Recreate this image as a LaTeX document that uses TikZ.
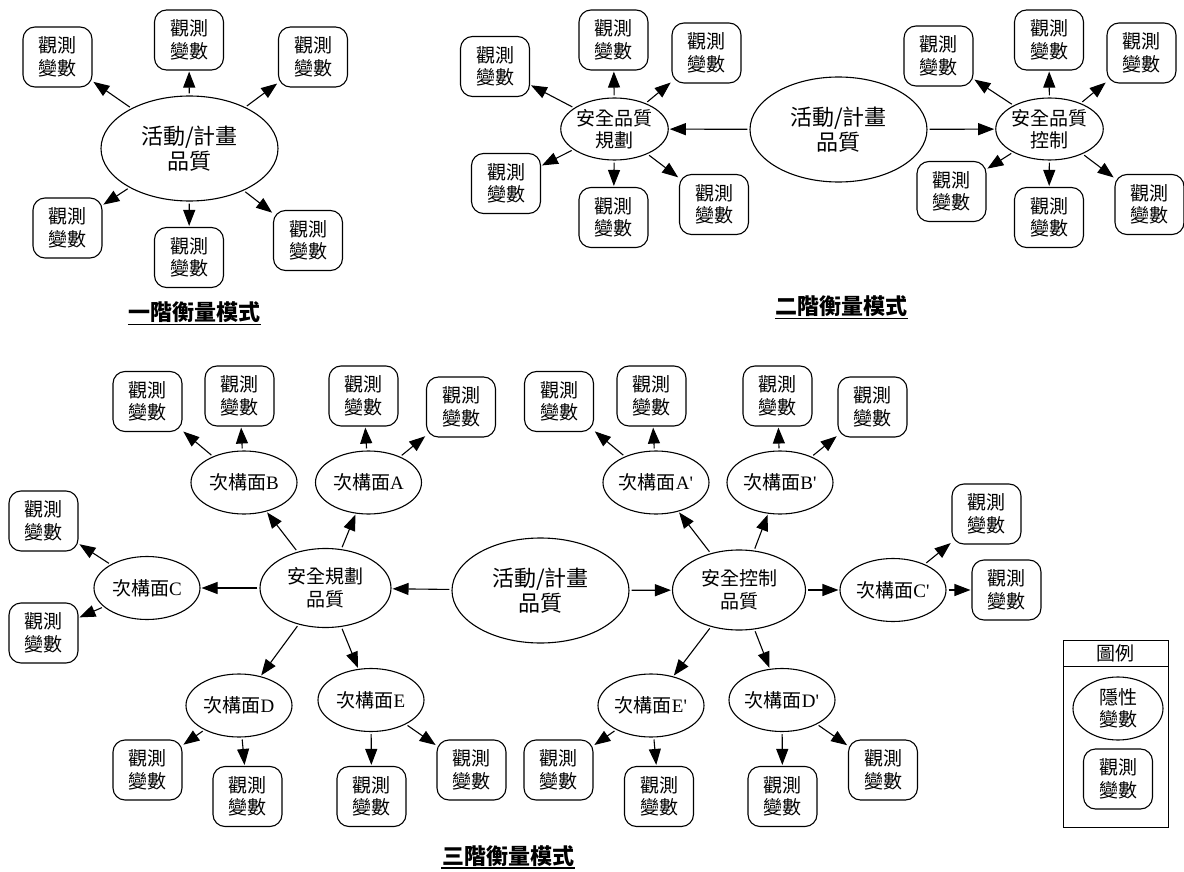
\documentclass[tikz,border=0pt]{standalone}
\usepackage{fontspec}
\setmainfont{Liberation Serif}
\newfontfamily\cjk{Noto Sans CJK TC}
\usetikzlibrary{shapes.geometric,arrows.meta}

\newcommand\facet[1]{次構面{\rmfamily #1}}
\newcommand\obstext{觀測\\變數}

\begin{document}
\begin{tikzpicture}[x=1pt,y=-1pt,line width=1.1pt]
  % Settings
  \tikzset{
    obs/.style={draw, rounded corners=12pt, minimum width=69pt, minimum height=60pt, inner sep=0pt, align=center, font=\cjk\fontsize{19}{22.5}\selectfont},
    lat/.style={draw, shape=ellipse, minimum width=106pt, minimum height=63pt, inner sep=0pt, align=center, font=\cjk\fontsize{19}{22.5}\selectfont},
    core/.style={lat, minimum width=177pt, minimum height=105pt, font=\cjk\fontsize{22}{25}\selectfont},
    heading/.style={inner sep=0pt, font=\cjk\bfseries\fontsize{22}{25}\selectfont},
    uline/.style={line width=1.6pt},
    arr/.style={-{Triangle[length=16pt,width=12pt]}, shorten <=2pt, shorten >=1pt},
  }
  \useasboundingbox (0,0) rectangle (1184,872);

  % First-order model
  \node[core] (m1) at (189.5,148.5) {活動/計畫\\品質};
  \foreach \i/\x/\y in {1/57.5/57, 2/189/40, 3/313/57, 4/67.5/228, 5/189/257.5, 6/308/240.5}
    {\node[obs] (m1-\i) at (\x,\y) {\obstext}; \draw[arr] (m1) -- (m1-\i);}
  \node[heading] (t1) at (194.5,312) {一階衡量模式};
  \draw[uline] ([yshift=-4pt]t1.base west) -- ([yshift=-4pt]t1.base east);

  % Second-order model
  \node[core] (m2) at (838.5,129.5) {活動/計畫\\品質};
  \node[lat, minimum width=105pt, minimum height=62pt] (plan2) at (614.5,129) {安全品質\\規劃};
  \node[lat, minimum width=107pt, minimum height=62pt] (ctrl2) at (1049.5,129) {安全品質\\控制};
  \draw[arr] (m2) -- (plan2);
  \draw[arr] (m2) -- (ctrl2);
  \foreach \i/\x/\y in {1/495/66.5, 2/613.5/40, 3/706.5/53, 4/506/183.5, 5/613.5/217.5, 6/714/204.5}
    {\node[obs] (plan2-\i) at (\x,\y) {\obstext}; \draw[arr] (plan2) -- (plan2-\i);}
  \foreach \i/\x/\y in {1/938.5/56, 2/1049/40, 3/1141.5/53, 4/951.5/191.5, 5/1049/217.5, 6/1149.5/204.5}
    {\node[obs] (ctrl2-\i) at (\x,\y) {\obstext}; \draw[arr] (ctrl2) -- (ctrl2-\i);}
  \node[heading] (t2) at (841.5,306) {二階衡量模式};
  \draw[uline] ([yshift=-4pt]t2.base west) -- ([yshift=-4pt]t2.base east);

  % Third-order model
  \node[core] (m3) at (540.5,590.5) {活動/計畫\\品質};
  \node[lat, minimum width=131pt, minimum height=79pt] (plan3) at (325.5,588) {安全規劃\\品質};
  \node[lat, minimum width=133pt, minimum height=80pt] (ctrl3) at (739,590) {安全控制\\品質};
  \draw[arr] (m3) -- (plan3);
  \draw[arr] (m3) -- (ctrl3);

  % Planning facets
  \foreach \f/\x/\y in {A/368.5/482.5, B/244/482.5, C/147/588, D/239/705.5, E/371/700}
    {\node[lat] (plan3-\f) at (\x,\y) {\facet{\f}}; \draw[arr] (plan3) -- (plan3-\f);}
  \foreach \f/\i/\x/\y in {B/1/147.5/401.5, B/2/239.5/396, A/1/363.5/396, A/2/461/407, C/1/43.5/521,
                           C/2/43.5/633, D/1/147.5/770, D/2/247.5/796.5, E/1/371.5/796.5, E/2/471.5/770}
    {\node[obs] (plan3-\f-\i) at (\x,\y) {\obstext}; \draw[arr] (plan3-\f) -- (plan3-\f-\i);}

  % Control facets
  \foreach \f/\x/\y in {A/656/482.5, B/780/482.5, C/893/590, E/651/705.5, D/782/700}
    {\node[lat] (ctrl3-\f) at (\x,\y) {\facet{\f\textquotesingle}}; \draw[arr] (ctrl3) -- (ctrl3-\f);}
  \foreach \f/\i/\x/\y in {A/1/559/401.5, A/2/651.5/396, B/1/777.5/396, B/2/872.5/407, C/1/986.5/514,
                           C/2/1006.5/590, E/1/558.5/770, E/2/659/796.5, D/1/782.5/796.5, D/2/883/770}
    {\node[obs] (ctrl3-\f-\i) at (\x,\y) {\obstext}; \draw[arr] (ctrl3-\f) -- (ctrl3-\f-\i);}

  \node[heading] (t3) at (508,856) {三階衡量模式};
  \draw[uline] ([yshift=-3.5pt]t3.base west) -- ([yshift=-3.5pt]t3.base east);

  % Legend
  \node[draw, line width=0.9pt, minimum width=105pt, minimum height=187pt] (legend) at (1115.5,733.5) {};
  \node[draw, line width=0.9pt, minimum width=105pt, minimum height=26pt, anchor=north, font=\cjk\fontsize{19}{22}\selectfont] (legendhead) at (legend.north) {圖例};
  \node[lat, minimum width=90pt, minimum height=63pt] (legendlat) at (1118,708.5) {隱性\\變數};
  \node[obs] (legendobs) at (1118,779) {\obstext};
\end{tikzpicture}
\end{document}
